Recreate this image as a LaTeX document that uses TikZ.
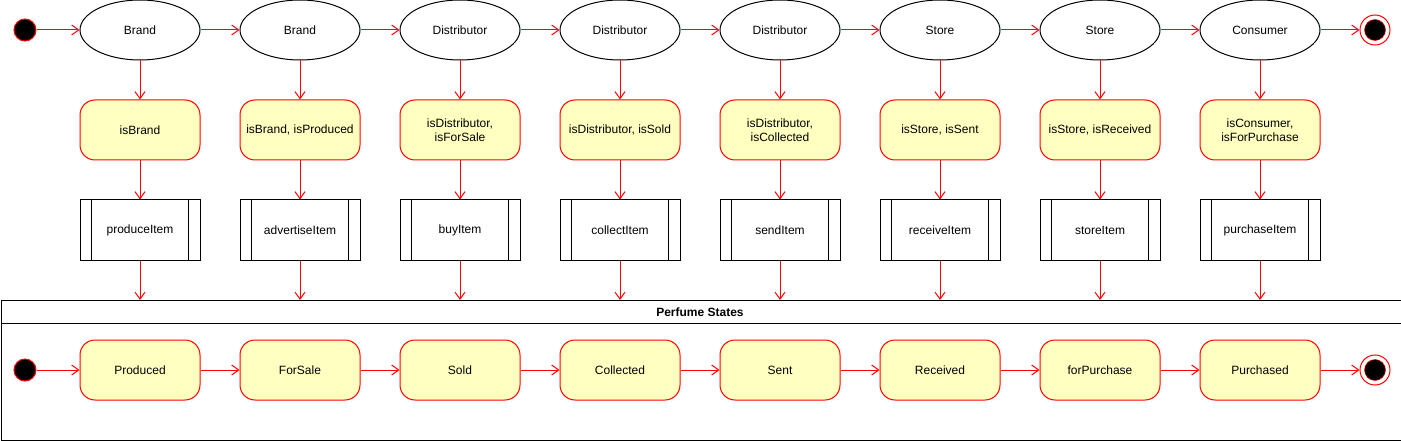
\documentclass[tikz,border=0pt]{standalone}
\usepackage{fontspec}
\setmainfont{Liberation Sans}
\usetikzlibrary{arrows.meta,shapes.geometric}
\definecolor{stroke}{HTML}{FF0000}
\definecolor{statefill}{HTML}{FFFFC0}
\begin{document}
\begin{tikzpicture}[x=1pt,y=-1pt,
  font=\fontsize{12pt}{14.5pt}\selectfont,
  actor/.style={ellipse, draw=black, fill=white, line width=1pt, minimum width=120pt, minimum height=60pt, inner sep=0pt},
  statebox/.style={rounded corners=15pt, draw=stroke, fill=statefill, line width=1pt, minimum width=120pt, minimum height=60pt, inner sep=0pt, align=center},
  procbox/.style={draw=black, fill=white, line width=1pt, minimum width=120pt, minimum height=60pt, inner sep=0pt},
  flow/.style={draw=stroke, line width=1pt, -{Straight Barb[length=7pt,width=10pt]}},
  startdot/.style={circle, draw=stroke, fill=black, minimum size=22pt, inner sep=0pt, line width=1pt},
  endouter/.style={circle, draw=stroke, fill=white, minimum size=30pt, inner sep=0pt, line width=1pt},
  endinner/.style={circle, draw=stroke, fill=black, minimum size=21pt, inner sep=0pt, line width=0.5pt},
  container/.style={draw=black, line width=1pt, minimum width=1400pt, minimum height=140pt, inner sep=0pt, anchor=north west}
]
\useasboundingbox (0,0) rectangle (1401,441);

% container
\node[container] (cont) at (0.5,300) {};
\coordinate (sepl) at (0.5,323.5);
\coordinate (sepr) at (1400.5,323.5);
\draw[line width=1pt] (sepl) -- (sepr);
\node[font=\fontsize{12pt}{14pt}\selectfont\bfseries] (title) at (700,312) {Perfume States};

% top row start / end
\node[startdot] (s0) at (25,30) {};
\node[endouter] (f0) at (1375,30) {};
\node[endinner] (f0i) at (1375,30) {};

% bottom row start / end
\node[startdot] (s1) at (25,370) {};
\node[endouter] (f1) at (1375,370) {};
\node[endinner] (f1i) at (1375,370) {};

\foreach \i/\a/\s/\p/\b in {
  1/Brand/isBrand/produceItem/Produced,
  2/Brand/{isBrand, isProduced}/advertiseItem/ForSale,
  3/Distributor/{isDistributor,\\isForSale}/buyItem/Sold,
  4/Distributor/{isDistributor, isSold}/collectItem/Collected,
  5/Distributor/{isDistributor,\\isCollected}/sendItem/Sent,
  6/Store/{isStore, isSent}/receiveItem/Received,
  7/Store/{isStore, isReceived}/storeItem/forPurchase,
  8/Consumer/{isConsumer,\\isForPurchase}/purchaseItem/Purchased}{
  \node[actor] (e\i) at (160*\i-20,30) {\a};
  \node[statebox] (r\i) at (160*\i-20,130) {\s};
  \node[procbox] (p\i) at (160*\i-20,230) {\p};
  \draw[line width=1pt] ([xshift=12pt]p\i.north west) -- ([xshift=12pt]p\i.south west);
  \draw[line width=1pt] ([xshift=-12pt]p\i.north east) -- ([xshift=-12pt]p\i.south east);
  \node[statebox] (b\i) at (160*\i-20,370) {\b};
  \draw[flow] (e\i) -- (r\i);
  \draw[flow] (r\i) -- (p\i);
  \draw[flow] (p\i) -- (p\i.south |- cont.north);
}

\draw[flow] (s0) -- (e1);
\draw[flow] (s1) -- (b1);
\foreach \i [evaluate=\i as \j using int(\i+1)] in {1,...,7}{
  \draw[flow] (e\i) -- (e\j);
  \draw[flow] (b\i) -- (b\j);
}
\draw[flow] (e8) -- (f0);
\draw[flow] (b8) -- (f1);
\end{tikzpicture}
\end{document}
